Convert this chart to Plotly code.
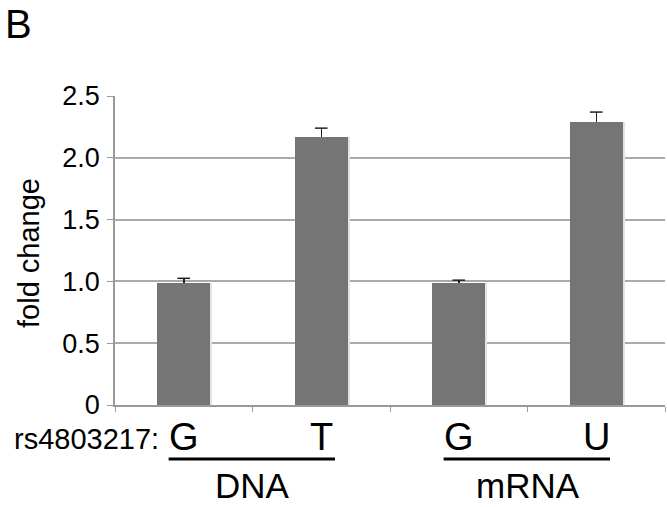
import plotly.graph_objects as go

alleles = ["G", "T", "G", "U"]
groups = ["DNA", "mRNA"]
fold_change = [0.99, 2.17, 0.99, 2.29]
errors = [0.035, 0.07, 0.02, 0.08]
y_ticks = [0, 0.5, 1.0, 1.5, 2.0, 2.5]
y_tick_text = ["0", "0.5", "1.0", "1.5", "2.0", "2.5"]
snp_label = "rs4803217:"
panel_label = "B"
y_title = "fold change"

W, H = 667, 507
PLOT_L, PLOT_R, PLOT_T, PLOT_B = 115, 665, 96, 405
L, R, T, B = PLOT_L, W - PLOT_R, PLOT_T, H - PLOT_B
PH = PLOT_B - PLOT_T
PW = PLOT_R - PLOT_L
FONT = "Liberation Sans, Arial, sans-serif"
BAR_W = 0.385


def py(ypix):
    return (PLOT_B - ypix) / PH


def px(xpix):
    return (xpix - PLOT_L) / PW


xs = list(range(len(alleles)))
err_tops = [v + e for v, e in zip(fold_change, errors)]

fig = go.Figure()
# faint shadow on the right side of the bars
fig.add_trace(go.Bar(
    x=xs, y=fold_change, width=BAR_W, offset=-BAR_W / 2 + 0.016,
    marker=dict(color="#e4e4e4", line=dict(width=0)), showlegend=False, hoverinfo="skip",
))
fig.add_trace(go.Bar(
    x=xs, y=fold_change, width=BAR_W, offset=-BAR_W / 2,
    marker=dict(color="#757575", line=dict(width=0)),
    error_y=dict(type="data", array=errors, arrayminus=[0] * len(errors),
                 symmetric=False, color="#222222", thickness=1.5, width=0),
    showlegend=False,
))
# caps on the upper end of the error bars only
fig.add_trace(go.Scatter(
    x=xs, y=err_tops, mode="markers",
    marker=dict(symbol="line-ew", size=9, line=dict(color="#222222", width=1.5)),
    showlegend=False, hoverinfo="skip",
))

annotations = []
for i, a in enumerate(alleles):
    annotations.append(dict(x=i, xref="x", y=py(437), yref="paper", text=a,
                            showarrow=False, font=dict(size=38, color="black", family=FONT),
                            xanchor="center", yanchor="middle"))
for g_i, g in enumerate(groups):
    annotations.append(dict(x=2 * g_i + 0.5, xref="x", y=py(506), yref="paper", text=g,
                            showarrow=False, font=dict(size=35, color="black", family=FONT),
                            xanchor="center", yanchor="bottom", borderpad=0))
annotations.append(dict(x=px(161), xref="paper", y=py(439), yref="paper", text=snp_label,
                        showarrow=False, font=dict(size=29, color="black", family=FONT),
                        xanchor="right", yanchor="middle"))
annotations.append(dict(x=px(29), xref="paper", y=py(253), yref="paper", text=y_title,
                        textangle=-90, showarrow=False,
                        font=dict(size=29, color="black", family=FONT),
                        xanchor="center", yanchor="middle"))
annotations.append(dict(x=px(3), xref="paper", y=py(24), yref="paper", text=panel_label,
                        showarrow=False, font=dict(size=40, color="black", family=FONT),
                        xanchor="left", yanchor="middle"))

shapes = []
for g_i in range(len(groups)):
    shapes.append(dict(type="line", xref="x", yref="paper",
                       x0=2 * g_i - 0.11, x1=2 * g_i + 1.1, y0=py(459), y1=py(459),
                       line=dict(color="black", width=3)))

fig.update_layout(
    width=W, height=H,
    margin=dict(l=L, r=R, t=T, b=B, pad=0),
    paper_bgcolor="white", plot_bgcolor="white",
    font=dict(family=FONT, color="black"),
    annotations=annotations, shapes=shapes,
    bargap=0, barmode="overlay", hovermode=False,
)
fig.update_xaxes(range=[-0.5, 3.5], tickvals=[-0.5, 0.5, 1.5, 2.5, 3.5],
                 ticktext=["", "", "", "", ""], ticks="outside", ticklen=5,
                 tickcolor="#999999", showline=True, linecolor="#999999", linewidth=1.5,
                 showgrid=False, zeroline=False, fixedrange=True)
fig.update_yaxes(range=[0, 2.5], tickvals=y_ticks, ticktext=y_tick_text,
                 ticks="outside", ticklen=6, tickcolor="#999999",
                 showline=True, linecolor="#999999", linewidth=1.5,
                 showgrid=True, gridcolor="#aaaaaa", gridwidth=1.5,
                 zeroline=False, tickfont=dict(size=27, color="black", family=FONT),
                 ticklabelstandoff=2, fixedrange=True)

fig.write_html("out.html", config={"displayModeBar": False},
               post_script="document.body.style.margin='0';document.body.style.overflow='hidden';")
